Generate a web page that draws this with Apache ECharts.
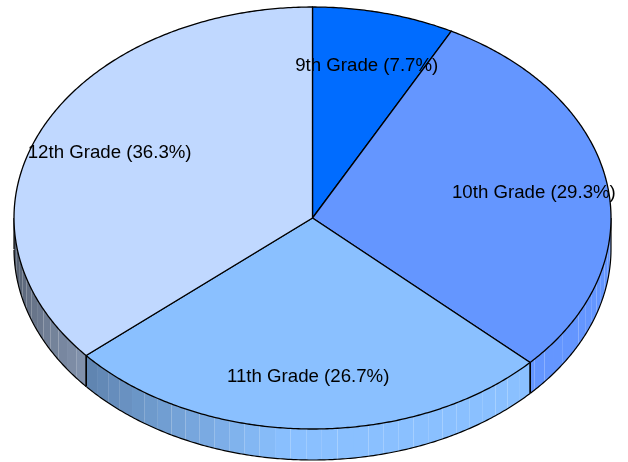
<!DOCTYPE html>
<html><head><meta charset="utf-8">
<style>html,body{margin:0;padding:0;background:#fff}#c{width:628px;height:462px}</style>
<script src="https://cdn.jsdelivr.net/npm/echarts@6/dist/echarts.min.js"></script>
</head><body><div id="c"></div>
<script>
const categories = ["9th Grade", "10th Grade", "11th Grade", "12th Grade"];
const shares = [7.7, 29.3, 26.7, 36.3];
const colors = ["#006CFF", "#6496FF", "#8AC0FF", "#C0D8FF"];

const CX = 312.5, CY = 218, RX = 298.5, RY = 211, DEPTH = 31;
const total = shares.reduce((a, b) => a + b, 0);
const rad = d => d * Math.PI / 180;
const px = (t, r = 1) => CX + r * RX * Math.sin(rad(t));
const py = (t, r = 1, dz = 0) => CY - r * RY * Math.cos(rad(t)) + dz;
function span(i) {
  let s = 0;
  for (let k = 0; k < i; k++) s += shares[k];
  return [s / total * 360, (s + shares[i]) / total * 360];
}
function shade(hex, t) {
  const f = t <= 185 ? 1 : Math.max(0.38, 1 - (t - 185) * 0.0072);
  const n = parseInt(hex.slice(1), 16);
  return `rgb(${[(n >> 16) & 255, (n >> 8) & 255, n & 255].map(c => Math.round(c * f)).join(",")})`;
}
const chart = echarts.init(document.getElementById("c"), null, { renderer: "canvas" });
const rows = categories.map((c, i) => ({ name: c, value: shares[i] }));

function wallItem(params) {
  const i = params.dataIndex;
  const [a0, a1] = span(i);
  const s = Math.max(a0, 90), e = Math.min(a1, 270);
  const children = [];
  if (e <= s) return { type: "group", children };
  const STEP = 3;
  for (let t = s; t < e - 1e-6; t += STEP) {
    const u = Math.min(t + STEP, e);
    const pts = [];
    for (let k = 0; k <= 4; k++) { const v = t + (u - t) * k / 4; pts.push([px(v), py(v)]); }
    for (let k = 4; k >= 0; k--) { const v = t + (u - t) * k / 4; pts.push([px(v), py(v, 1, DEPTH)]); }
    children.push({ type: "polygon", shape: { points: pts }, style: { fill: shade(colors[i], (t + u) / 2), stroke: null } });
  }
  const arc = [];
  for (let v = s; v <= e + 1e-6; v += 0.5) arc.push([px(v), py(v, 1, DEPTH)]);
  children.push({ type: "polyline", shape: { points: arc }, style: { fill: null, stroke: "#000", lineWidth: 1.2 } });
  [s, e].forEach(t => {
    children.push({ type: "line", shape: { x1: px(t), y1: py(t), x2: px(t), y2: py(t, 1, DEPTH) },
      style: { stroke: "#000", lineWidth: (t === 90 || t === 270) ? 1.2 : 1.6 } });
  });
  return { type: "group", children };
}
function topItem(params) {
  const i = params.dataIndex;
  const [a0, a1] = span(i);
  const pts = [[CX, CY]];
  for (let v = a0; v < a1; v += 0.5) pts.push([px(v), py(v)]);
  pts.push([px(a1), py(a1)]);
  return { type: "polygon", shape: { points: pts },
    style: { fill: colors[i], stroke: "#000", lineWidth: 1.3, lineJoin: "round" } };
}
function labelItem(params) {
  const i = params.dataIndex;
  const [a0, a1] = span(i);
  const m = (a0 + a1) / 2;
  return { type: "text", x: px(m, 0.75) + 0.6, y: py(m, 0.75) + 1,
    style: { text: `${categories[i]} (${shares[i].toFixed(1)}%)`, fill: "#000",
      font: '18.67px "Liberation Sans", Arial, sans-serif', textAlign: "center", textVerticalAlign: "middle" } };
}
chart.setOption({
  animation: false,
  backgroundColor: "#fff",
  series: [
    { type: "custom", name: "wall", coordinateSystem: "none", z: 1, silent: true, renderItem: wallItem, data: rows },
    { type: "custom", name: "top", coordinateSystem: "none", z: 2, silent: true, renderItem: topItem, data: rows },
    { type: "custom", name: "label", coordinateSystem: "none", z: 3, silent: true, renderItem: labelItem, data: rows }
  ]
});
</script></body></html>
